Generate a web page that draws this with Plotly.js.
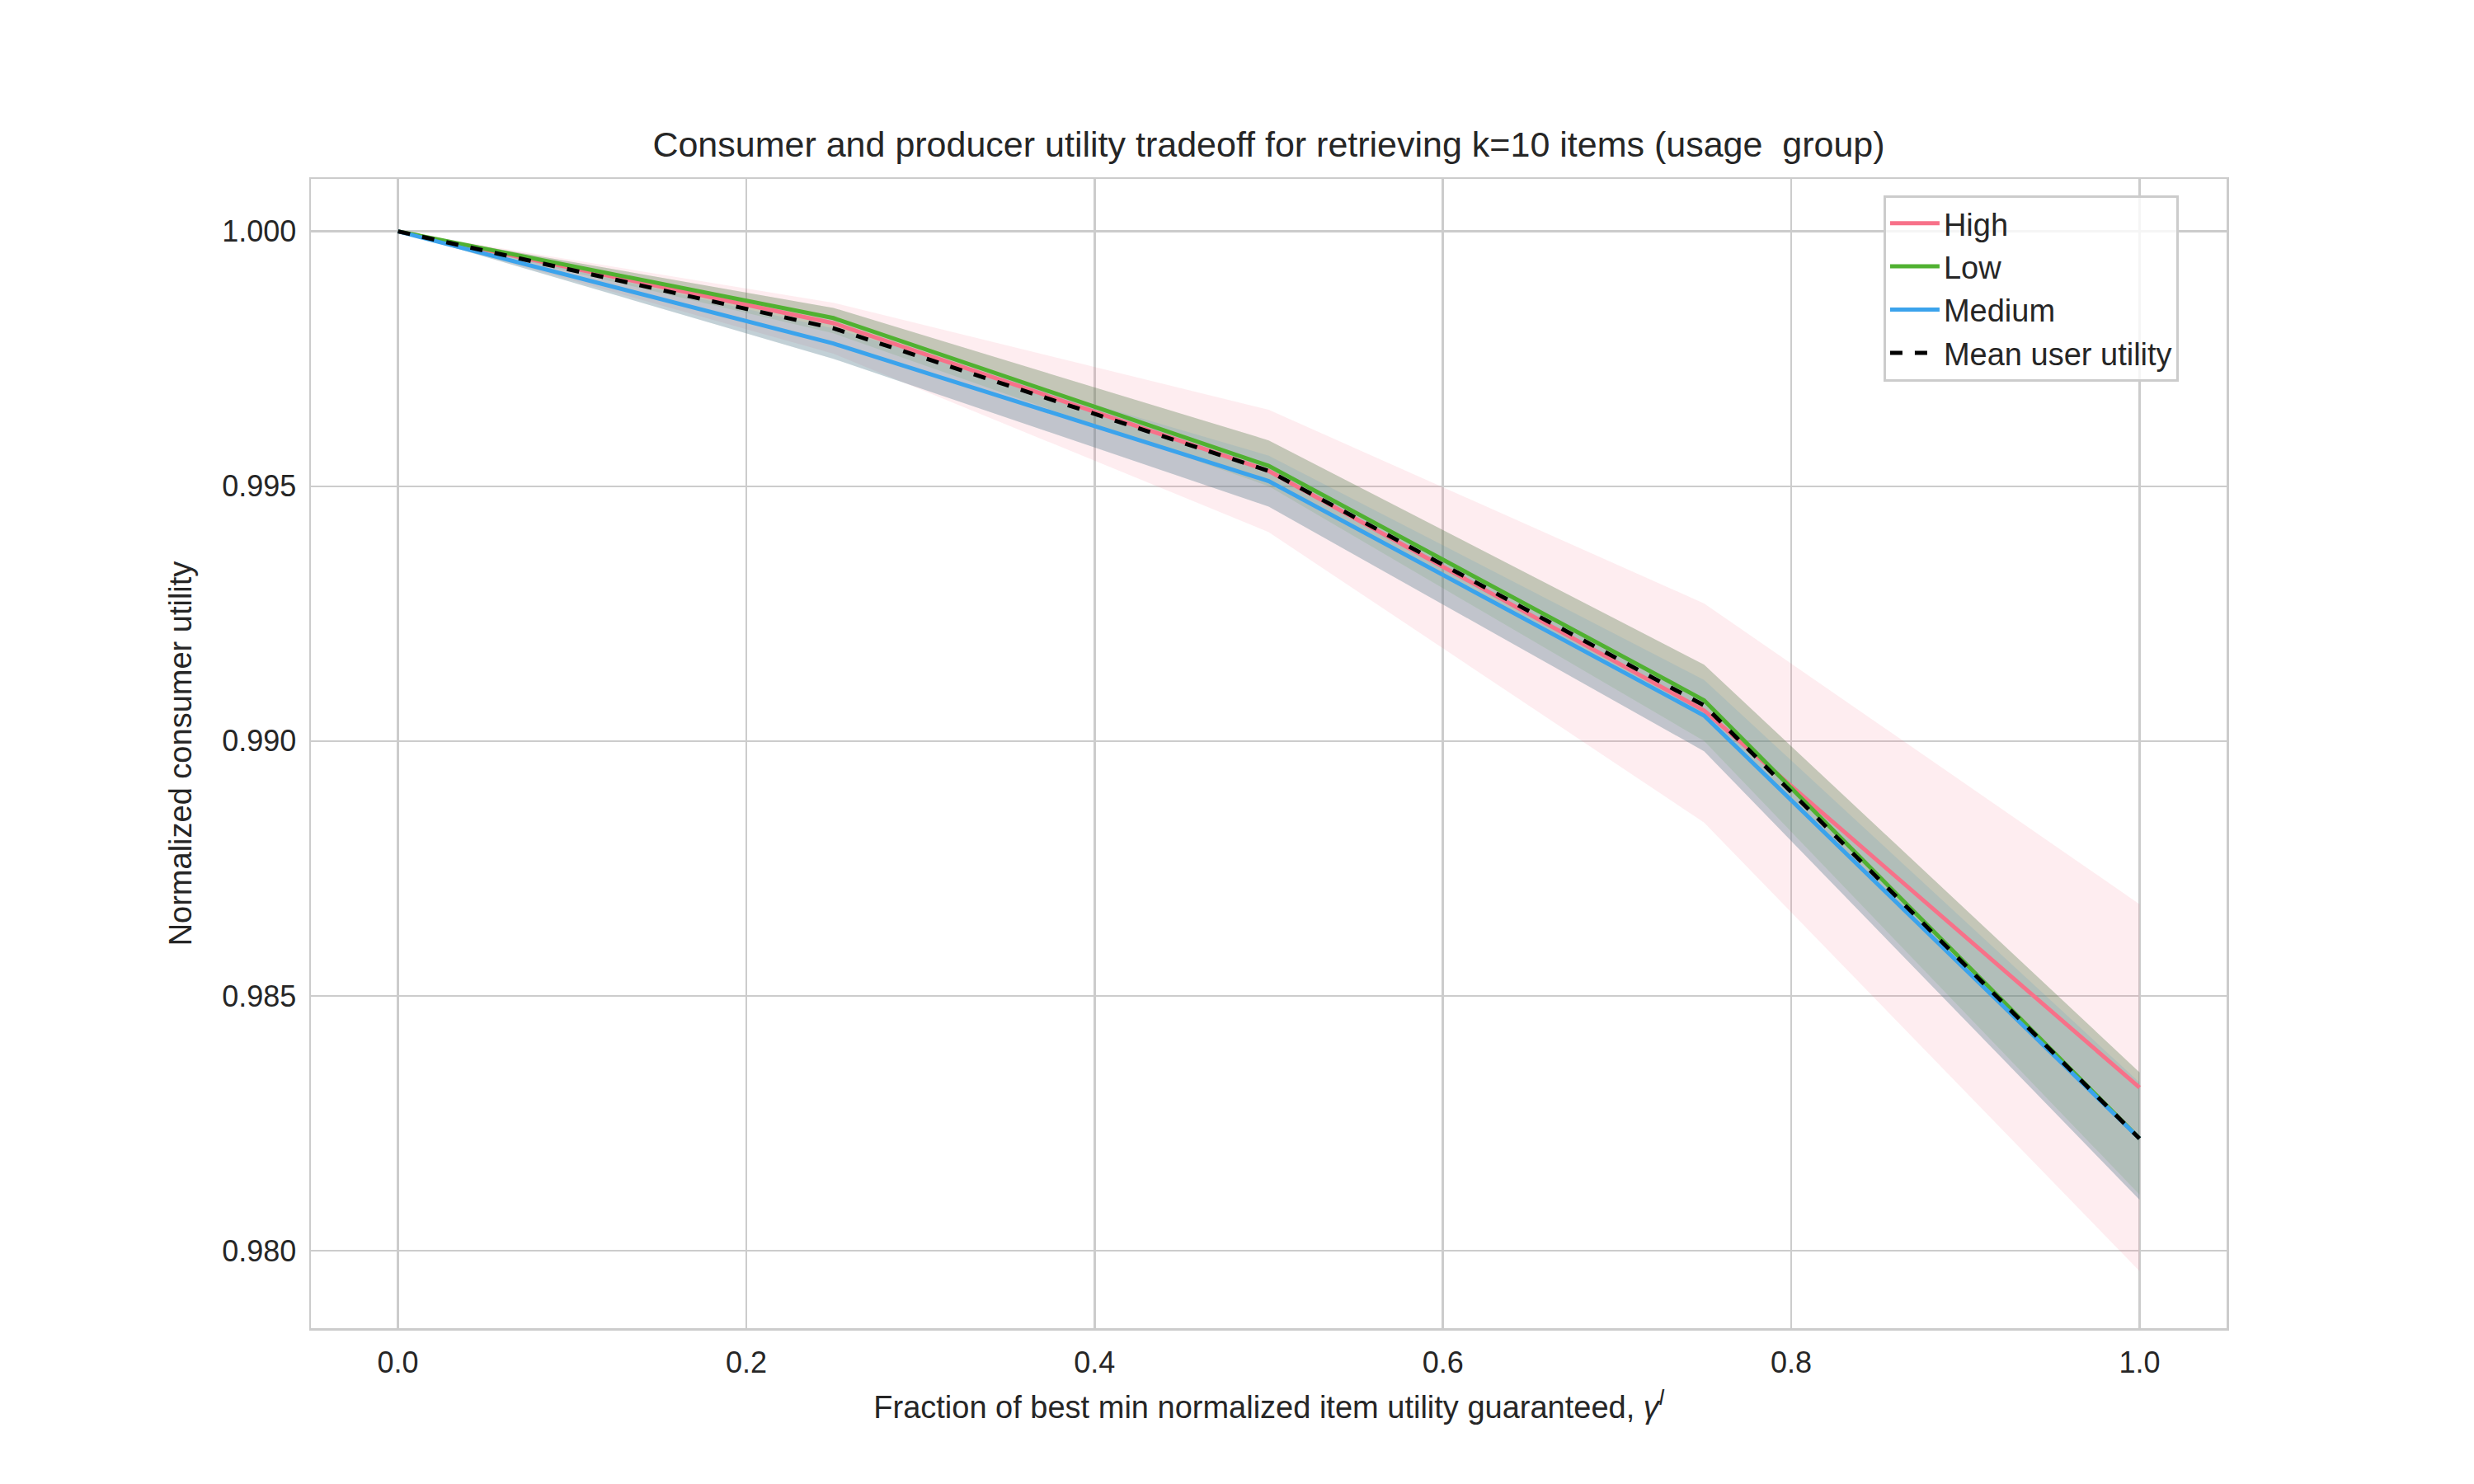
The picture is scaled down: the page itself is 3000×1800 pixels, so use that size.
<!DOCTYPE html>
<html>
<head>
<script src="https://cdn.plot.ly/plotly-3.0.1.min.js"></script>
<style>body{margin:0;background:#fff}</style>
</head>
<body>
<div id="plotDiv" style="width:3000px;height:1800px"></div>
<script>
var gammas = [0, 0.25, 0.5, 0.75, 1.0];

var highMean = [1.0, 0.9982, 0.9953, 0.9906, 0.9832];
var highUpper = [1.0, 0.9986, 0.9965, 0.9927, 0.9868];
var highLower = [1.0, 0.9976, 0.9941, 0.9884, 0.9796];

var lowMean = [1.0, 0.9983, 0.9954, 0.9908, 0.9822];
var lowUpper = [1.0, 0.9985, 0.9959, 0.9915, 0.9835];
var lowLower = [1.0, 0.9980, 0.9950, 0.9900, 0.9811];

var medMean = [1.0, 0.9978, 0.9951, 0.9905, 0.9822];
var medUpper = [1.0, 0.9981, 0.9956, 0.9912, 0.9833];
var medLower = [1.0, 0.9975, 0.9946, 0.9898, 0.9810];

var userMean = [1.0, 0.9981, 0.9953, 0.9907, 0.9822];

var groups = [
  { name: "High", color: "#f77189", fill: "rgba(247,113,137,0.13)", m: highMean, u: highUpper, l: highLower },
  { name: "Low", color: "#50b131", fill: "rgba(80,177,49,0.15)", m: lowMean, u: lowUpper, l: lowLower },
  { name: "Medium", color: "#3ba3ec", fill: "rgba(59,163,236,0.15)", m: medMean, u: medUpper, l: medLower }
];

var data = [];
groups.forEach(function (g) {
  data.push({ x: gammas, y: g.u, mode: "lines", line: { width: 0 }, showlegend: false, hoverinfo: "skip" });
  data.push({ x: gammas, y: g.l, mode: "lines", line: { width: 0 }, fill: "tonexty",
    fillcolor: g.fill, showlegend: false, hoverinfo: "skip" });
});
// grey overlap of the bands
data.push({ x: gammas, y: lowUpper, mode: "lines", line: { width: 0 }, showlegend: false, hoverinfo: "skip" });
data.push({ x: gammas, y: medLower, mode: "lines", line: { width: 0 }, fill: "tonexty",
  fillcolor: "rgba(100,110,100,0.25)", showlegend: false, hoverinfo: "skip" });
groups.forEach(function (g) {
  data.push({ x: gammas, y: g.m, mode: "lines", name: g.name, line: { color: g.color, width: 5 } });
});
data.push({ x: gammas, y: userMean, mode: "lines", name: "Mean user utility",
  line: { color: "black", width: 5, dash: "dash" } });

var layout = {
  width: 3000,
  height: 1800,
  margin: { l: 377, r: 300, t: 217, b: 189 },
  paper_bgcolor: "white",
  plot_bgcolor: "white",
  font: { family: "Arial, Liberation Sans, sans-serif", size: 36, color: "#262626" },
  title: { text: "Consumer and producer utility tradeoff for retrieving k=10 items (usage  group)",
    font: { size: 43 }, x: 0.5, xref: "paper", yref: "container", y: 0.903, yanchor: "middle" },
  xaxis: {
    range: [-0.05, 1.05], tickvals: [0, 0.2, 0.4, 0.6, 0.8, 1.0], tickformat: ".1f",
    showgrid: true, gridcolor: "#cccccc", gridwidth: 2.5, zeroline: false,
    showline: true, linecolor: "#cccccc", linewidth: 2.5, mirror: true, ticks: "outside",
    ticklen: 8, tickcolor: "white",
    title: { text: "Fraction of best min normalized item utility guaranteed, <i>γ</i><sup><i>l</i></sup>",
      font: { size: 38 }, standoff: 22 }
  },
  yaxis: {
    range: [0.97848, 1.00103], tickvals: [0.98, 0.985, 0.99, 0.995, 1.0], tickformat: ".3f",
    showgrid: true, gridcolor: "#cccccc", gridwidth: 2.5, zeroline: false,
    showline: true, linecolor: "#cccccc", linewidth: 2.5, mirror: true, ticks: "outside",
    ticklen: 8, tickcolor: "white",
    title: { text: "Normalized consumer utility", font: { size: 38 }, standoff: 25 }
  },
  legend: {
    x: 0.975, xanchor: "right", y: 0.986, yanchor: "top", traceorder: "normal",
    bgcolor: "rgba(255,255,255,0.8)", bordercolor: "#cccccc", borderwidth: 3,
    font: { size: 38 }, itemwidth: 60
  },
  showlegend: true
};

Plotly.newPlot("plotDiv", data, layout, { staticPlot: true });
</script>
</body>
</html>
